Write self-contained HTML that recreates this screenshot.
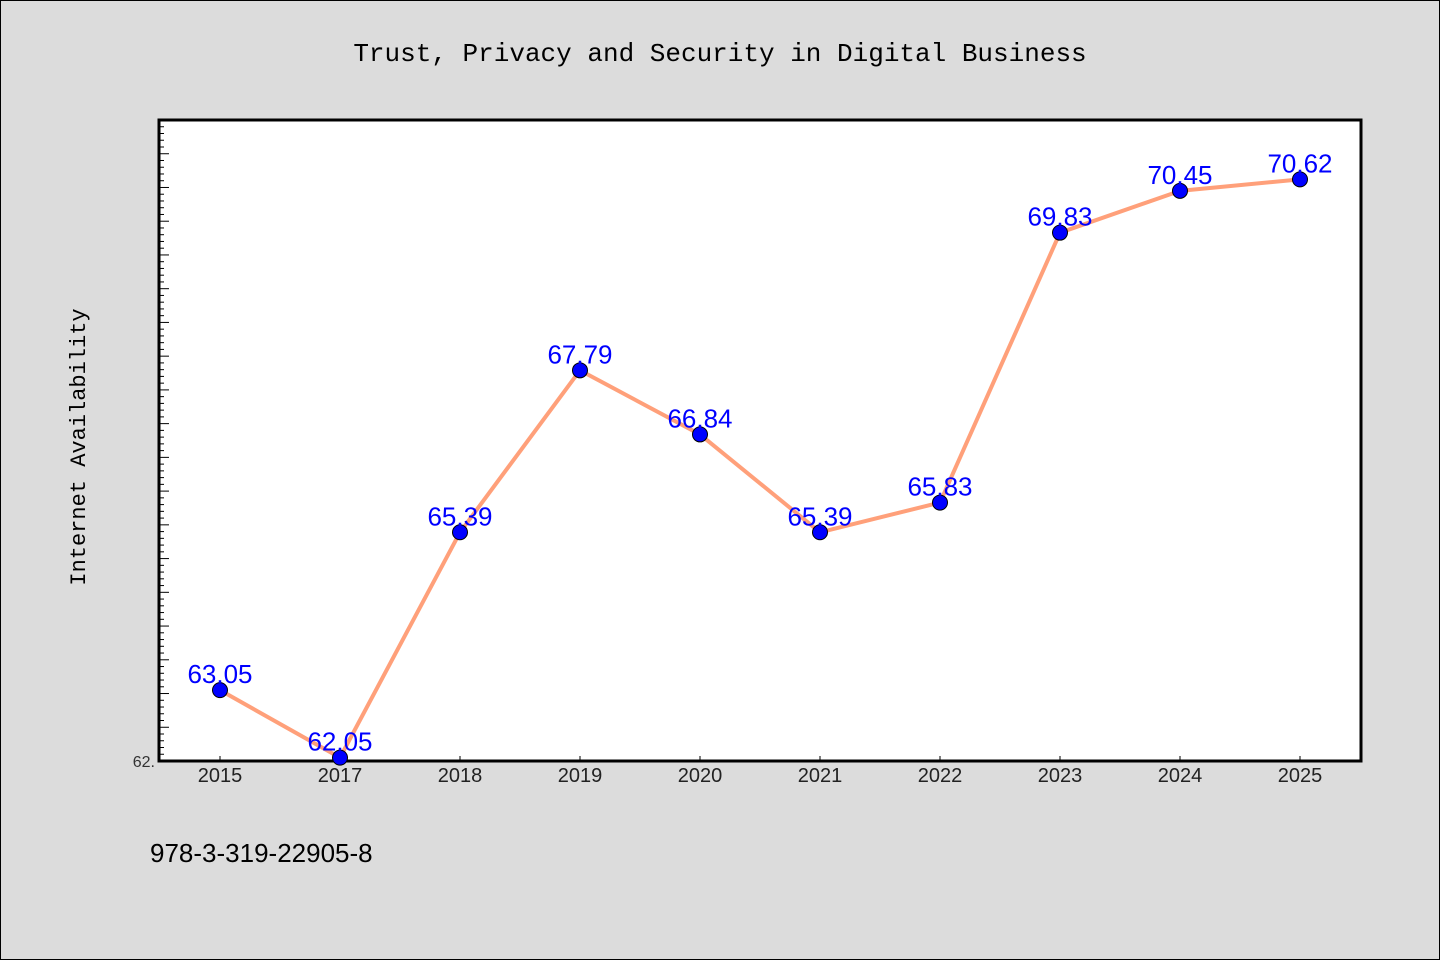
<!DOCTYPE html>
<html><head><meta charset="utf-8"><style>
body{margin:0;width:1440px;height:960px;background:#dcdcdc;overflow:hidden;}
svg{display:block}
</style></head><body>
<svg width="1440" height="960" id="c">
<rect x="0.5" y="0.5" width="1439" height="959" fill="#dcdcdc" stroke="#000"/>
<text x="720" y="61" text-anchor="middle" font-family="Liberation Mono, monospace" font-size="26" fill="#000">Trust, Privacy and Security in Digital Business</text>
<text transform="translate(85,447) rotate(-90)" text-anchor="middle" font-family="Liberation Mono, monospace" font-size="22" fill="#000">Internet Availability</text>
<text x="150" y="862" font-family="Liberation Sans, sans-serif" font-size="26" fill="#000">978-3-319-22905-8</text>
<rect x="159" y="120" width="1202" height="641" fill="#fff" stroke="#000" stroke-width="3"/>
<g id="ticks"></g><g id="xl"></g><g id="series"></g>
<text x="155" y="767" text-anchor="end" font-family="Liberation Sans, sans-serif" font-size="16" fill="#333">62.</text>
</svg>
<script>
const categories=["2015","2017","2018","2019","2020","2021","2022","2023","2024","2025"];
const values=[63.05,62.05,65.39,67.79,66.84,65.39,65.83,69.83,70.45,70.62];
const yMin=62,yMax=71.5;
const NS="http://www.w3.org/2000/svg";
const L=159,R=1361,T=120,B=761;
function y(v){return B-(v-yMin)/(yMax-yMin)*(B-T);}
function x(i){return 220+i*120;}
function mk(t,a,p){const e=document.createElementNS(NS,t);for(const k in a)e.setAttribute(k,a[k]);p.appendChild(e);return e;}
const tg=document.getElementById('ticks');
for(let k=0;k<=95;k++){const v=yMin+k*0.1;const yy=y(v);const len=(k%5===0)?10:5;
const t=mk('line',{x1:L,x2:L+len,y1:yy,y2:yy,stroke:'#000','stroke-width':1},tg);

}
const xl=document.getElementById('xl');
categories.forEach((c,i)=>{
const tk=mk('line',{x1:x(i),x2:x(i),y1:B,y2:B-5,stroke:'#000'},xl);


const t=mk('text',{x:x(i),y:782,'text-anchor':'middle','font-family':'Liberation Sans, sans-serif','font-size':20,fill:'#222'},xl);
t.textContent=c;

});
const sg=document.getElementById('series');
const pl=mk('polyline',{points:values.map((v,i)=>x(i)+','+y(v)).join(' '),fill:'none',stroke:'#ffa07a','stroke-width':4,'stroke-linejoin':'round'},sg);


values.forEach((v,i)=>{
const c=mk('circle',{cx:x(i),cy:y(v),r:7.5,fill:'#0000ff',stroke:'#000','stroke-width':1},sg);


const t=mk('text',{x:x(i),y:y(v)-7,'text-anchor':'middle','font-family':'Liberation Sans, sans-serif','font-size':26,fill:'#0000ff'},sg);
t.textContent=v.toFixed(2);

});
</script>
</body></html>
